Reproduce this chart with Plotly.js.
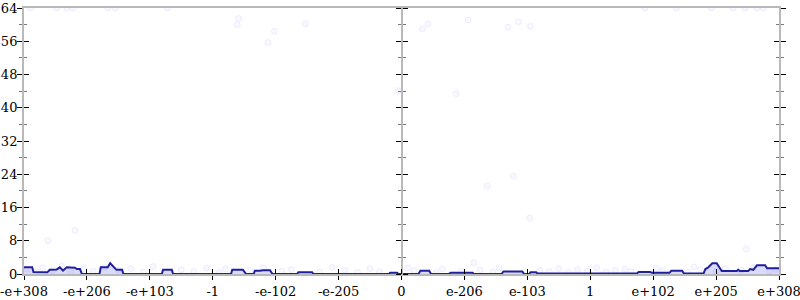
<!DOCTYPE html>
<html>
<head>
<meta charset="utf-8">
<script src="https://cdn.plot.ly/plotly-3.0.1.min.js"></script>
<style>html,body{margin:0;padding:0;background:#fff;}#chart{width:800px;height:300px;}</style>
</head>
<body>
<div id="chart"></div>
<script>
// Tick positions (ordinal flonum scale) and labels
const tickPos = [-6,-5,-4,-3,-2,-1,0,1,2,3,4,5,6];
const tickLabels = ["-e+308","-e+206","-e+103","-1","-e-102","-e-205","0","e-206","e-103","1","e+102","e+205","e+308"];

// Density curve (counts)
const lineX = [-6,-5.87,-5.85,-5.63,-5.59,-5.48,-5.43,-5.38,-5.32,-5.19,-5.16,-5.11,-5.08,-4.80,-4.78,-4.67,-4.63,-4.59,-4.53,-4.44,-4.42,
  -3.81,-3.79,-3.65,-3.63,-2.71,-2.69,-2.52,-2.47,-2.35,-2.33,-2.25,-2.20,-2.09,-2.05,
  -1.66,-1.64,-1.42,-1.40,-0.20,-0.18,-0.07,-0.05,0.27,0.30,0.44,0.47,0.75,0.78,1.13,1.15,1.59,1.62,1.92,1.95,2.03,2.05,2.14,2.16,
  3.74,3.77,3.95,3.98,4.26,4.29,4.46,4.49,4.80,4.83,4.87,4.94,5.01,5.04,5.09,5.33,5.35,5.38,5.51,5.54,5.59,5.65,5.78,5.81,6];
const lineY = [1.6,1.6,0.5,0.4,1.0,1.1,1.6,0.8,1.6,1.5,1.2,1.2,0,0,1.6,1.6,2.6,1.9,1.0,1.0,0,
  0,1.0,1.0,0,0,1.0,1.0,0,0,0.8,0.8,0.9,0.9,0,
  0,0.4,0.4,0,0,0.3,0.3,0,0,0.8,0.8,0,0,0.3,0.3,0,0,0.6,0.6,0,0,0.4,0.4,0.1,
  0.1,0.5,0.5,0.3,0.3,0.8,0.8,0.1,0.1,1.2,1.5,2.6,2.6,1.8,0.7,0.7,1.0,0.7,0.7,1.2,1.0,2.1,2.1,1.4,1.4];

// Sample points (faint)
const ptsX = [-5.89,-5.48,-5.32,-5.22,-4.67,-4.55,-3.72,
  -2.59,-2.61,-1.53,-2.02,-2.12,-0.05,0.33,0.42,1.06,1.69,1.86,2.05,0.87,
  3.87,4.37,4.93,5.27,5.46,5.65,5.75,-5.62,-5.19,1.36,1.78,2.04,5.48,1.15,
  -5.95,-5.80,-5.70,-5.55,-5.40,-5.25,-5.05,-4.90,-4.72,-4.50,-4.30,-4.10,-3.95,-3.50,-3.30,-3.10,-2.90,-2.80,-2.40,-2.20,
  -1.90,-1.75,-1.30,-1.10,-0.90,-0.70,-0.50,-0.35,0.10,0.20,0.55,0.65,0.95,1.25,1.45,1.55,2.20,2.35,2.50,2.65,
  2.80,2.95,3.10,3.25,3.40,3.55,3.65,4.05,4.15,4.55,4.65,4.75,5.00,5.15,5.40,5.60,5.85,5.95];
const ptsY = [64,64,64,64,64,64,64,
  61.5,60,60.2,58.4,55.7,44.1,59,60.2,61.1,59.4,60.7,59.6,43.4,
  64,64,64,64,64,64,64,8.0,10.5,21.2,23.5,13.5,6.0,2.7,
  1.2,0.6,1.5,0.8,1.9,0.4,1.1,0.7,1.6,0.9,1.3,0.5,1.8,1.0,0.6,1.4,0.3,1.2,0.8,1.5,
  0.7,1.1,0.5,1.6,0.9,0.4,1.3,0.6,1.5,0.8,0.3,1.2,0.7,1.0,0.5,1.4,0.9,0.6,1.3,0.4,
  1.1,0.7,1.5,0.5,0.9,1.2,0.6,1.4,0.8,0.5,1.7,1.0,0.6,1.3,0.9,1.6,0.7,1.1];

const gray = 'rgb(185,185,185)';
const tickFont = {family:'DejaVu Serif', size:13, color:'#000'};

const baseY = {range:[0,64], dtick:8, tick0:0, showgrid:false, zeroline:false, fixedrange:true,
  showline:true, linecolor:gray, linewidth:2, tickcolor:'#000', tickwidth:1, ticklen:5};

function yax(extra, mt){
  return Object.assign({}, JSON.parse(JSON.stringify(baseY)),
    {minor:{dtick:4, tick0:0, ticklen:3, tickcolor:'#777', ticks:mt}}, extra);
}

const traces = [
  {x:ptsX, y:ptsY, type:'scatter', mode:'markers', hoverinfo:'skip',
   marker:{size:6, color:'rgba(60,60,255,0.035)', line:{color:'rgba(60,60,255,0.07)', width:1}}},
  {x:lineX, y:lineY, type:'scatter', mode:'lines', fill:'tozeroy', fillcolor:'rgba(70,70,240,0.2)',
   line:{color:'rgb(32,32,155)', width:2}, hoverinfo:'skip'}
];

const layout = {
  width:800, height:300,
  margin:{l:24, r:21, t:8, b:26, pad:0},
  paper_bgcolor:'#fff', plot_bgcolor:'#fff', showlegend:false,
  xaxis:{range:[-6,6], tickvals:tickPos, ticktext:tickLabels, ticks:'outside', ticklen:4,
    tickcolor:'#000', tickfont:tickFont, showgrid:false, zeroline:false, showline:true, mirror:true,
    linecolor:gray, linewidth:2, fixedrange:true, ticklabeloverflow:'allow', automargin:false},
  xaxis2:{overlaying:'x', matches:'x', range:[-6,6], tickvals:tickPos, ticks:'inside', ticklen:5,
    tickcolor:'#000', showticklabels:false, showgrid:false, zeroline:false, showline:false, side:'bottom', anchor:'y'},
  yaxis: yax({ticks:'outside', tickfont:tickFont, ticklabelstandoff:-3, ticklabeloverflow:'allow', automargin:false}, 'outside'),
  yaxis2: yax({overlaying:'y', side:'left', ticks:'inside', showticklabels:false}, 'inside'),
  yaxis3: yax({overlaying:'y', anchor:'free', position:0.5, side:'left', ticks:'outside', showticklabels:false}, 'outside'),
  yaxis4: yax({overlaying:'y', anchor:'free', position:0.5, side:'right', ticks:'outside', showticklabels:false}, 'outside'),
  yaxis5: yax({overlaying:'y', side:'right', ticks:'outside', showticklabels:false}, 'outside'),
  yaxis6: yax({overlaying:'y', side:'right', ticks:'inside', showticklabels:false}, 'inside')
};

// empty traces to activate the extra axes
const extra = ['x2/y','x/y2','x/y3','x/y4','x/y5','x/y6'].map(s => {
  const [xa, ya] = s.split('/');
  return {x:[], y:[], xaxis:xa, yaxis:ya, type:'scatter', mode:'markers', hoverinfo:'skip', showlegend:false};
});

Plotly.newPlot('chart', traces.concat(extra), layout, {staticPlot:true, displayModeBar:false});
</script>
</body>
</html>
